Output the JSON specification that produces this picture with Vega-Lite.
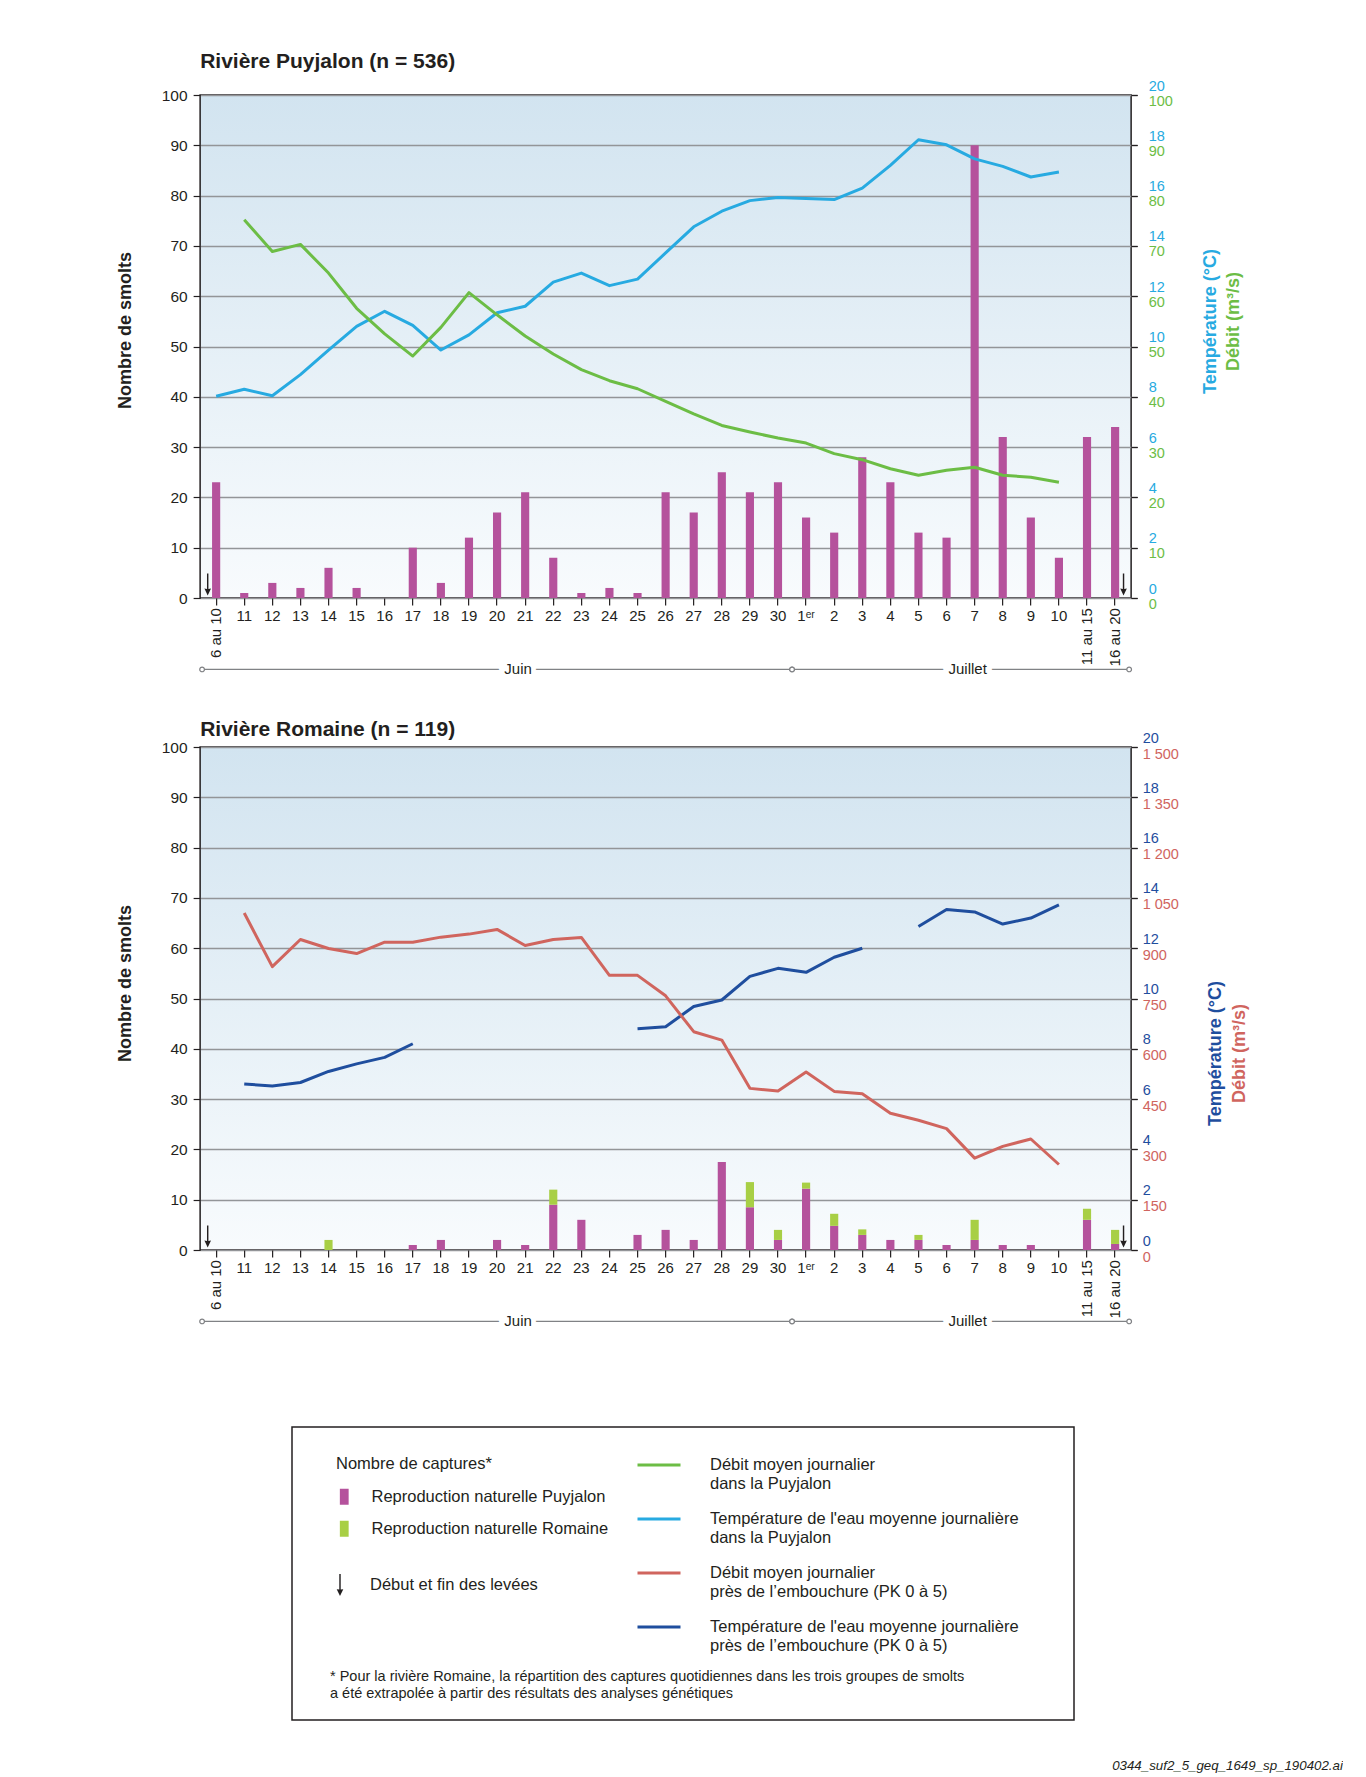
{
  "$schema": "https://vega.github.io/schema/vega-lite/v6.json",
  "background": "white",
  "padding": {"left": 115, "top": 50, "right": 0, "bottom": 0},
  "title": {"text": "0344_suf2_5_geq_1649_sp_190402.ai", "orient": "bottom", "anchor": "end", "frame": "bounds", "font": "Liberation Sans, Arial, sans-serif", "fontSize": 13.3, "fontStyle": "italic", "fontWeight": "normal", "color": "#231f20", "offset": 38, "dx": 94},
  "datasets": {
    "puyjalon_captures": [
      {"jour": "6 au 10", "groupe": "Reproduction naturelle Puyjalon", "nombre": 23},
      {"jour": "11", "groupe": "Reproduction naturelle Puyjalon", "nombre": 1},
      {"jour": "12", "groupe": "Reproduction naturelle Puyjalon", "nombre": 3},
      {"jour": "13", "groupe": "Reproduction naturelle Puyjalon", "nombre": 2},
      {"jour": "14", "groupe": "Reproduction naturelle Puyjalon", "nombre": 6},
      {"jour": "15", "groupe": "Reproduction naturelle Puyjalon", "nombre": 2},
      {"jour": "16", "groupe": "Reproduction naturelle Puyjalon", "nombre": 0},
      {"jour": "17", "groupe": "Reproduction naturelle Puyjalon", "nombre": 10},
      {"jour": "18", "groupe": "Reproduction naturelle Puyjalon", "nombre": 3},
      {"jour": "19", "groupe": "Reproduction naturelle Puyjalon", "nombre": 12},
      {"jour": "20", "groupe": "Reproduction naturelle Puyjalon", "nombre": 17},
      {"jour": "21", "groupe": "Reproduction naturelle Puyjalon", "nombre": 21},
      {"jour": "22", "groupe": "Reproduction naturelle Puyjalon", "nombre": 8},
      {"jour": "23", "groupe": "Reproduction naturelle Puyjalon", "nombre": 1},
      {"jour": "24", "groupe": "Reproduction naturelle Puyjalon", "nombre": 2},
      {"jour": "25", "groupe": "Reproduction naturelle Puyjalon", "nombre": 1},
      {"jour": "26", "groupe": "Reproduction naturelle Puyjalon", "nombre": 21},
      {"jour": "27", "groupe": "Reproduction naturelle Puyjalon", "nombre": 17},
      {"jour": "28", "groupe": "Reproduction naturelle Puyjalon", "nombre": 25},
      {"jour": "29", "groupe": "Reproduction naturelle Puyjalon", "nombre": 21},
      {"jour": "30", "groupe": "Reproduction naturelle Puyjalon", "nombre": 23},
      {"jour": "1er", "groupe": "Reproduction naturelle Puyjalon", "nombre": 16},
      {"jour": "2", "groupe": "Reproduction naturelle Puyjalon", "nombre": 13},
      {"jour": "3", "groupe": "Reproduction naturelle Puyjalon", "nombre": 28},
      {"jour": "4", "groupe": "Reproduction naturelle Puyjalon", "nombre": 23},
      {"jour": "5", "groupe": "Reproduction naturelle Puyjalon", "nombre": 13},
      {"jour": "6", "groupe": "Reproduction naturelle Puyjalon", "nombre": 12},
      {"jour": "7", "groupe": "Reproduction naturelle Puyjalon", "nombre": 90},
      {"jour": "8", "groupe": "Reproduction naturelle Puyjalon", "nombre": 32},
      {"jour": "9", "groupe": "Reproduction naturelle Puyjalon", "nombre": 16},
      {"jour": "10", "groupe": "Reproduction naturelle Puyjalon", "nombre": 8},
      {"jour": "11 au 15", "groupe": "Reproduction naturelle Puyjalon", "nombre": 32},
      {"jour": "16 au 20", "groupe": "Reproduction naturelle Puyjalon", "nombre": 34}
    ],
    "puyjalon_env": [
      {"jour": "6 au 10", "temperature": 8.02, "debit": null},
      {"jour": "11", "temperature": 8.3, "debit": 75.2},
      {"jour": "12", "temperature": 8.04, "debit": 68.9},
      {"jour": "13", "temperature": 8.88, "debit": 70.3},
      {"jour": "14", "temperature": 9.86, "debit": 64.6},
      {"jour": "15", "temperature": 10.8, "debit": 57.6},
      {"jour": "16", "temperature": 11.4, "debit": 52.5},
      {"jour": "17", "temperature": 10.84, "debit": 48.1},
      {"jour": "18", "temperature": 9.86, "debit": 53.8},
      {"jour": "19", "temperature": 10.46, "debit": 60.7},
      {"jour": "20", "temperature": 11.34, "debit": 56.3},
      {"jour": "21", "temperature": 11.6, "debit": 52.1},
      {"jour": "22", "temperature": 12.56, "debit": 48.5},
      {"jour": "23", "temperature": 12.92, "debit": 45.4},
      {"jour": "24", "temperature": 12.42, "debit": 43.2},
      {"jour": "25", "temperature": 12.68, "debit": 41.6},
      {"jour": "26", "temperature": 13.72, "debit": 39.1},
      {"jour": "27", "temperature": 14.76, "debit": 36.6},
      {"jour": "28", "temperature": 15.38, "debit": 34.3},
      {"jour": "29", "temperature": 15.8, "debit": 33.0},
      {"jour": "30", "temperature": 15.92, "debit": 31.8},
      {"jour": "1er", "temperature": 15.88, "debit": 30.8},
      {"jour": "2", "temperature": 15.84, "debit": 28.7},
      {"jour": "3", "temperature": 16.3, "debit": 27.5},
      {"jour": "4", "temperature": 17.2, "debit": 25.7},
      {"jour": "5", "temperature": 18.22, "debit": 24.4},
      {"jour": "6", "temperature": 18.02, "debit": 25.4},
      {"jour": "7", "temperature": 17.46, "debit": 26.0},
      {"jour": "8", "temperature": 17.16, "debit": 24.4},
      {"jour": "9", "temperature": 16.74, "debit": 24.0},
      {"jour": "10", "temperature": 16.94, "debit": 23.0}
    ],
    "romaine_captures": [
      {"jour": "14", "groupe": "Reproduction naturelle Romaine", "nombre": 2},
      {"jour": "17", "groupe": "Reproduction naturelle Puyjalon", "nombre": 1},
      {"jour": "18", "groupe": "Reproduction naturelle Puyjalon", "nombre": 2},
      {"jour": "20", "groupe": "Reproduction naturelle Puyjalon", "nombre": 2},
      {"jour": "21", "groupe": "Reproduction naturelle Puyjalon", "nombre": 1},
      {"jour": "22", "groupe": "Reproduction naturelle Puyjalon", "nombre": 9},
      {"jour": "22", "groupe": "Reproduction naturelle Romaine", "nombre": 3},
      {"jour": "23", "groupe": "Reproduction naturelle Puyjalon", "nombre": 6},
      {"jour": "25", "groupe": "Reproduction naturelle Puyjalon", "nombre": 3},
      {"jour": "26", "groupe": "Reproduction naturelle Puyjalon", "nombre": 4},
      {"jour": "27", "groupe": "Reproduction naturelle Puyjalon", "nombre": 2},
      {"jour": "28", "groupe": "Reproduction naturelle Puyjalon", "nombre": 17.5},
      {"jour": "29", "groupe": "Reproduction naturelle Puyjalon", "nombre": 8.5},
      {"jour": "29", "groupe": "Reproduction naturelle Romaine", "nombre": 5},
      {"jour": "30", "groupe": "Reproduction naturelle Puyjalon", "nombre": 2},
      {"jour": "30", "groupe": "Reproduction naturelle Romaine", "nombre": 2},
      {"jour": "1er", "groupe": "Reproduction naturelle Puyjalon", "nombre": 12.2},
      {"jour": "1er", "groupe": "Reproduction naturelle Romaine", "nombre": 1.2},
      {"jour": "2", "groupe": "Reproduction naturelle Puyjalon", "nombre": 4.8},
      {"jour": "2", "groupe": "Reproduction naturelle Romaine", "nombre": 2.4},
      {"jour": "3", "groupe": "Reproduction naturelle Puyjalon", "nombre": 3},
      {"jour": "3", "groupe": "Reproduction naturelle Romaine", "nombre": 1.1},
      {"jour": "4", "groupe": "Reproduction naturelle Puyjalon", "nombre": 2},
      {"jour": "5", "groupe": "Reproduction naturelle Puyjalon", "nombre": 2},
      {"jour": "5", "groupe": "Reproduction naturelle Romaine", "nombre": 1},
      {"jour": "6", "groupe": "Reproduction naturelle Puyjalon", "nombre": 1},
      {"jour": "7", "groupe": "Reproduction naturelle Puyjalon", "nombre": 2},
      {"jour": "7", "groupe": "Reproduction naturelle Romaine", "nombre": 4},
      {"jour": "8", "groupe": "Reproduction naturelle Puyjalon", "nombre": 1},
      {"jour": "9", "groupe": "Reproduction naturelle Puyjalon", "nombre": 1},
      {"jour": "11 au 15", "groupe": "Reproduction naturelle Puyjalon", "nombre": 6},
      {"jour": "11 au 15", "groupe": "Reproduction naturelle Romaine", "nombre": 2.2},
      {"jour": "16 au 20", "groupe": "Reproduction naturelle Puyjalon", "nombre": 1.2},
      {"jour": "16 au 20", "groupe": "Reproduction naturelle Romaine", "nombre": 2.8}
    ],
    "romaine_env": [
      {"jour": "11", "debit": 1005, "temperature": 6.6, "troncon": "a"},
      {"jour": "12", "debit": 845, "temperature": 6.52, "troncon": "a"},
      {"jour": "13", "debit": 926, "temperature": 6.66, "troncon": "a"},
      {"jour": "14", "debit": 899, "temperature": 7.1, "troncon": "a"},
      {"jour": "15", "debit": 884, "temperature": 7.4, "troncon": "a"},
      {"jour": "16", "debit": 918, "temperature": 7.66, "troncon": "a"},
      {"jour": "17", "debit": 918, "temperature": 8.2, "troncon": "a"},
      {"jour": "18", "debit": 933, "temperature": null, "troncon": null},
      {"jour": "19", "debit": 942, "temperature": null, "troncon": null},
      {"jour": "20", "debit": 956, "temperature": null, "troncon": null},
      {"jour": "21", "debit": 908, "temperature": null, "troncon": null},
      {"jour": "22", "debit": 926, "temperature": null, "troncon": null},
      {"jour": "23", "debit": 932, "temperature": null, "troncon": null},
      {"jour": "24", "debit": 819, "temperature": null, "troncon": null},
      {"jour": "25", "debit": 819, "temperature": 8.8, "troncon": "b"},
      {"jour": "26", "debit": 758, "temperature": 8.88, "troncon": "b"},
      {"jour": "27", "debit": 651, "temperature": 9.68, "troncon": "b"},
      {"jour": "28", "debit": 626, "temperature": 9.94, "troncon": "b"},
      {"jour": "29", "debit": 482, "temperature": 10.88, "troncon": "b"},
      {"jour": "30", "debit": 474, "temperature": 11.2, "troncon": "b"},
      {"jour": "1er", "debit": 531, "temperature": 11.04, "troncon": "b"},
      {"jour": "2", "debit": 473, "temperature": 11.64, "troncon": "b"},
      {"jour": "3", "debit": 466, "temperature": 12.0, "troncon": "b"},
      {"jour": "4", "debit": 408, "temperature": null, "troncon": null},
      {"jour": "5", "debit": 387, "temperature": 12.86, "troncon": "c"},
      {"jour": "6", "debit": 362, "temperature": 13.54, "troncon": "c"},
      {"jour": "7", "debit": 274, "temperature": 13.44, "troncon": "c"},
      {"jour": "8", "debit": 309, "temperature": 12.96, "troncon": "c"},
      {"jour": "9", "debit": 331, "temperature": 13.2, "troncon": "c"},
      {"jour": "10", "debit": 255, "temperature": 13.72, "troncon": "c"}
    ],
    "mois": [
      {"mois": "Juin", "debut": "6 au 10", "fin": "30", "milieu": "21"},
      {"mois": "Juillet", "debut": "1er", "fin": "16 au 20", "milieu": "7"}
    ],
    "periodes": [
      {"jour": "6 au 10"},
      {"jour": "11 au 15"},
      {"jour": "16 au 20"}
    ]
  },
  "spacing": 95,
  "center": true,
  "vconcat": [
    {
      "spacing": 39,
      "vconcat": [
        {
          "title": {"text": "Rivière Puyjalon (n = 536)", "anchor": "start", "frame": "group", "offset": 6},
          "width": 931,
          "height": 503,
          "resolve": {"scale": {"y": "independent"}},
          "layer": [
            {
              "layer": [
                {
                  "data": {"name": "puyjalon_captures"},
                  "mark": {"type": "bar", "width": {"band": 0.29}},
                  "encoding": {
                    "x": {"field": "jour", "type": "ordinal", "title": null,
                      "scale": {"type": "band", "domain": ["6 au 10","11","12","13","14","15","16","17","18","19","20","21","22","23","24","25","26","27","28","29","30","1er","2","3","4","5","6","7","8","9","10","11 au 15","16 au 20"], "paddingInner": 0, "paddingOuter": 0.07},
                      "axis": {"title": null, "orient": "bottom", "labelFont": "Liberation Sans, Arial, sans-serif", "labelFontSize": 15, "labelColor": "#231f20", "labelAngle": 0, "labelOverlap": false, "tickSize": 7, "tickColor": "#231f20", "tickWidth": 1.2, "labelPadding": 3, "labelBaseline": "top", "domain": false, "grid": false,
                        "labelExpr": "indexof(datum.label, ' au ') >= 0 ? '' : (datum.label == '1er' ? '1ᵉʳ' : datum.label)"}},
                    "y": {"field": "nombre", "type": "quantitative", "scale": {"domain": [0, 100], "nice": false},
                      "axis": {"orient": "left", "values": [0,10,20,30,40,50,60,70,80,90,100], "title": "Nombre de smolts", "titleFont": "Liberation Sans, Arial, sans-serif", "titleFontSize": 18, "titleFontWeight": "bold", "titleColor": "#231f20", "titleAngle": 270, "titleX": -75, "titleY": 235, "titleAlign": "center", "titleBaseline": "middle", "labelFont": "Liberation Sans, Arial, sans-serif", "labelFontSize": 15.5, "labelColor": "#231f20", "labelPadding": 6, "tickSize": 7, "tickColor": "#231f20", "tickWidth": 1.2, "grid": true, "gridColor": "#939598", "gridWidth": 1.5, "domain": false}},
                    "fill": {"field": "groupe", "type": "nominal",
                      "scale": {"domain": ["Reproduction naturelle Puyjalon", "Reproduction naturelle Romaine"], "range": ["#b5529c", "#a8cf45"]},
                      "legend": {"orient": "none", "legendX": 136, "legendY": 1361, "title": "Nombre de captures*", "titlePadding": 16, "symbolType": "M-0.55,-1H0.55V1H-0.55Z", "symbolSize": 256, "symbolStrokeWidth": 0, "labelOffset": 19, "rowPadding": 15}},
                    "order": {"field": "groupe", "type": "nominal", "sort": "ascending"}
                  }
                },
                {
                  "data": {"name": "periodes"},
                  "mark": {"type": "text", "font": "Liberation Sans, Arial, sans-serif", "fontSize": 15, "fill": "#231f20", "angle": 270, "align": "right", "baseline": "middle"},
                  "encoding": {
                    "x": {"field": "jour", "type": "ordinal", "title": null},
                    "y": {"datum": -2},
                    "text": {"field": "jour"}
                  }
                },
                {
                  "data": {"name": "mois"},
                  "mark": {"type": "rule", "stroke": "#808285", "strokeWidth": 1.2},
                  "encoding": {
                    "x": {"field": "debut", "type": "ordinal", "title": null, "bandPosition": 0},
                    "x2": {"field": "fin", "bandPosition": 1},
                    "y": {"datum": -14.2}
                  }
                },
                {
                  "data": {"name": "mois"},
                  "mark": {"type": "point", "filled": true, "fill": "white", "stroke": "#808285", "strokeWidth": 1.2, "size": 22, "opacity": 1},
                  "encoding": {
                    "x": {"field": "debut", "type": "ordinal", "title": null, "bandPosition": 0},
                    "y": {"datum": -14.2}
                  }
                },
                {
                  "data": {"name": "mois"},
                  "mark": {"type": "point", "filled": true, "fill": "white", "stroke": "#808285", "strokeWidth": 1.2, "size": 22, "opacity": 1},
                  "encoding": {
                    "x": {"field": "fin", "type": "ordinal", "title": null, "bandPosition": 1},
                    "y": {"datum": -14.2}
                  }
                },
                {
                  "data": {"name": "mois"},
                  "mark": {"type": "text", "font": "Liberation Sans, Arial, sans-serif", "fontSize": 15, "fill": "white", "stroke": "white", "strokeWidth": 10, "baseline": "middle", "align": "center"},
                  "encoding": {
                    "x": {"field": "milieu", "type": "ordinal", "title": null, "bandPosition": 0.25},
                    "y": {"datum": -14.2},
                    "text": {"field": "mois"}
                  }
                },
                {
                  "data": {"name": "mois"},
                  "mark": {"type": "text", "font": "Liberation Sans, Arial, sans-serif", "fontSize": 15, "fill": "#231f20", "baseline": "middle", "align": "center"},
                  "encoding": {
                    "x": {"field": "milieu", "type": "ordinal", "title": null, "bandPosition": 0.25},
                    "y": {"datum": -14.2},
                    "text": {"field": "mois"}
                  }
                },
                {
                  "data": {"values": [{"jour": "6 au 10"}]},
                  "mark": {"type": "point", "filled": true, "fill": "#231f20", "strokeWidth": 0, "size": 484, "opacity": 1},
                  "encoding": {
                    "x": {"field": "jour", "type": "ordinal", "title": null, "bandPosition": 0.2},
                    "y": {"datum": 2.7},
                    "shape": {"datum": "Début et fin des levées", "type": "nominal", "scale": {"domain": ["Début et fin des levées"], "range": ["M-0.065,-1L0.065,-1L0.065,0.42L0.3,0.38L0,1L-0.3,0.38L-0.065,0.42Z"]},
                      "legend": {"orient": "none", "legendX": 129, "legendY": 1479, "title": null, "symbolSize": 484, "symbolFillColor": "#231f20", "symbolStrokeWidth": 0, "labelOffset": 19}}
                  }
                },
                {
                  "data": {"values": [{"jour": "16 au 20"}]},
                  "mark": {"type": "point", "filled": true, "fill": "#231f20", "strokeWidth": 0, "size": 484, "opacity": 1},
                  "encoding": {
                    "x": {"field": "jour", "type": "ordinal", "title": null, "bandPosition": 0.8},
                    "y": {"datum": 2.7},
                    "shape": {"datum": "Début et fin des levées", "type": "nominal"}
                  }
                }
              ]
            },
            {
              "data": {"name": "puyjalon_env"},
              "mark": {"type": "line", "strokeWidth": 3, "strokeJoin": "round"},
              "encoding": {
                "x": {"field": "jour", "type": "ordinal", "title": null},
                "y": {"field": "temperature", "type": "quantitative", "scale": {"domain": [0, 20], "nice": false},
                  "axis": {"orient": "right", "values": [0,2,4,6,8,10,12,14,16,18,20], "title": "Température (°C)", "titleFont": "Liberation Sans, Arial, sans-serif", "titleFontSize": 18, "titleFontWeight": "bold", "titleColor": "#27aae1", "titleAngle": 270, "titleX": 79, "titleY": 226, "titleAlign": "center", "titleBaseline": "middle", "labelFont": "Liberation Sans, Arial, sans-serif", "labelFontSize": 14.5, "labelColor": "#27aae1", "labelOffset": -9, "labelPadding": 11, "labelAlign": "left", "labelBaseline": "middle", "tickSize": 6, "tickColor": "#231f20", "tickWidth": 1.2, "grid": false, "domain": false}},
                "stroke": {"datum": "Température de l'eau moyenne journalière dans la Puyjalon", "type": "nominal",
                  "scale": {"domain": ["Débit moyen journalier dans la Puyjalon", "Température de l'eau moyenne journalière dans la Puyjalon", "Débit moyen journalier près de l’embouchure (PK 0 à 5)", "Température de l'eau moyenne journalière près de l’embouchure (PK 0 à 5)"], "range": ["#6cbd45", "#27aae1", "#d0655e", "#1f4e9e"]},
                  "legend": {"orient": "none", "legendX": 436, "legendY": 1347, "title": null, "symbolType": "stroke", "symbolSize": 1849, "symbolStrokeWidth": 3, "labelOffset": 28, "rowPadding": 4, "labelLimit": 500,
                    "labelExpr": "indexof(datum.label, ' dans ') >= 0 ? [substring(datum.label, 0, indexof(datum.label, ' dans ')), substring(datum.label, indexof(datum.label, ' dans ') + 1)] : [substring(datum.label, 0, indexof(datum.label, ' près ')), substring(datum.label, indexof(datum.label, ' près ') + 1)]"}}
              }
            },
            {
              "data": {"name": "puyjalon_env"},
              "mark": {"type": "line", "strokeWidth": 3, "strokeJoin": "round"},
              "encoding": {
                "x": {"field": "jour", "type": "ordinal", "title": null},
                "y": {"field": "debit", "type": "quantitative", "scale": {"domain": [0, 100], "nice": false},
                  "axis": {"orient": "right", "values": [0,10,20,30,40,50,60,70,80,90,100], "title": "Débit (m³/s)", "titleFont": "Liberation Sans, Arial, sans-serif", "titleFontSize": 18, "titleFontWeight": "bold", "titleColor": "#6cbd45", "titleAngle": 270, "titleX": 102, "titleY": 226, "titleAlign": "center", "titleBaseline": "middle", "labelFont": "Liberation Sans, Arial, sans-serif", "labelFontSize": 14.5, "labelColor": "#6cbd45", "labelOffset": 6, "labelPadding": 11, "labelAlign": "left", "labelBaseline": "middle", "tickSize": 6, "tickColor": "#231f20", "tickWidth": 1.2, "grid": false, "domain": false}},
                "stroke": {"datum": "Débit moyen journalier dans la Puyjalon", "type": "nominal"}
              }
            }
          ]
        },
        {
          "title": {"text": "Rivière Romaine (n = 119)", "anchor": "start", "frame": "group", "offset": -10},
          "width": 931,
          "height": 503,
          "resolve": {"scale": {"y": "independent"}},
          "layer": [
            {
              "layer": [
                {
                  "data": {"name": "romaine_captures"},
                  "mark": {"type": "bar", "width": {"band": 0.29}},
                  "encoding": {
                    "x": {"field": "jour", "type": "ordinal", "title": null,
                      "scale": {"type": "band", "domain": ["6 au 10","11","12","13","14","15","16","17","18","19","20","21","22","23","24","25","26","27","28","29","30","1er","2","3","4","5","6","7","8","9","10","11 au 15","16 au 20"], "paddingInner": 0, "paddingOuter": 0.07},
                      "axis": {"title": null, "orient": "bottom", "labelFont": "Liberation Sans, Arial, sans-serif", "labelFontSize": 15, "labelColor": "#231f20", "labelAngle": 0, "labelOverlap": false, "tickSize": 7, "tickColor": "#231f20", "tickWidth": 1.2, "labelPadding": 3, "labelBaseline": "top", "domain": false, "grid": false,
                        "labelExpr": "indexof(datum.label, ' au ') >= 0 ? '' : (datum.label == '1er' ? '1ᵉʳ' : datum.label)"}},
                    "y": {"field": "nombre", "type": "quantitative", "scale": {"domain": [0, 100], "nice": false},
                      "axis": {"orient": "left", "values": [0,10,20,30,40,50,60,70,80,90,100], "title": "Nombre de smolts", "titleFont": "Liberation Sans, Arial, sans-serif", "titleFontSize": 18, "titleFontWeight": "bold", "titleColor": "#231f20", "titleAngle": 270, "titleX": -75, "titleY": 236, "titleAlign": "center", "titleBaseline": "middle", "labelFont": "Liberation Sans, Arial, sans-serif", "labelFontSize": 15.5, "labelColor": "#231f20", "labelPadding": 6, "tickSize": 7, "tickColor": "#231f20", "tickWidth": 1.2, "grid": true, "gridColor": "#939598", "gridWidth": 1.5, "domain": false}},
                    "fill": {"field": "groupe", "type": "nominal",
                      "scale": {"domain": ["Reproduction naturelle Puyjalon", "Reproduction naturelle Romaine"], "range": ["#b5529c", "#a8cf45"]}},
                    "order": {"field": "groupe", "type": "nominal", "sort": "ascending"}
                  }
                },
                {
                  "data": {"name": "periodes"},
                  "mark": {"type": "text", "font": "Liberation Sans, Arial, sans-serif", "fontSize": 15, "fill": "#231f20", "angle": 270, "align": "right", "baseline": "middle"},
                  "encoding": {
                    "x": {"field": "jour", "type": "ordinal", "title": null},
                    "y": {"datum": -2},
                    "text": {"field": "jour"}
                  }
                },
                {
                  "data": {"name": "mois"},
                  "mark": {"type": "rule", "stroke": "#808285", "strokeWidth": 1.2},
                  "encoding": {
                    "x": {"field": "debut", "type": "ordinal", "title": null, "bandPosition": 0},
                    "x2": {"field": "fin", "bandPosition": 1},
                    "y": {"datum": -14.2}
                  }
                },
                {
                  "data": {"name": "mois"},
                  "mark": {"type": "point", "filled": true, "fill": "white", "stroke": "#808285", "strokeWidth": 1.2, "size": 22, "opacity": 1},
                  "encoding": {
                    "x": {"field": "debut", "type": "ordinal", "title": null, "bandPosition": 0},
                    "y": {"datum": -14.2}
                  }
                },
                {
                  "data": {"name": "mois"},
                  "mark": {"type": "point", "filled": true, "fill": "white", "stroke": "#808285", "strokeWidth": 1.2, "size": 22, "opacity": 1},
                  "encoding": {
                    "x": {"field": "fin", "type": "ordinal", "title": null, "bandPosition": 1},
                    "y": {"datum": -14.2}
                  }
                },
                {
                  "data": {"name": "mois"},
                  "mark": {"type": "text", "font": "Liberation Sans, Arial, sans-serif", "fontSize": 15, "fill": "white", "stroke": "white", "strokeWidth": 10, "baseline": "middle", "align": "center"},
                  "encoding": {
                    "x": {"field": "milieu", "type": "ordinal", "title": null, "bandPosition": 0.25},
                    "y": {"datum": -14.2},
                    "text": {"field": "mois"}
                  }
                },
                {
                  "data": {"name": "mois"},
                  "mark": {"type": "text", "font": "Liberation Sans, Arial, sans-serif", "fontSize": 15, "fill": "#231f20", "baseline": "middle", "align": "center"},
                  "encoding": {
                    "x": {"field": "milieu", "type": "ordinal", "title": null, "bandPosition": 0.25},
                    "y": {"datum": -14.2},
                    "text": {"field": "mois"}
                  }
                },
                {
                  "data": {"values": [{"jour": "6 au 10"}]},
                  "mark": {"type": "point", "filled": true, "fill": "#231f20", "strokeWidth": 0, "size": 484, "opacity": 1},
                  "encoding": {
                    "x": {"field": "jour", "type": "ordinal", "title": null, "bandPosition": 0.2},
                    "y": {"datum": 2.7},
                    "shape": {"datum": "Début et fin des levées", "type": "nominal", "scale": {"domain": ["Début et fin des levées"], "range": ["M-0.065,-1L0.065,-1L0.065,0.42L0.3,0.38L0,1L-0.3,0.38L-0.065,0.42Z"]}}
                  }
                },
                {
                  "data": {"values": [{"jour": "16 au 20"}]},
                  "mark": {"type": "point", "filled": true, "fill": "#231f20", "strokeWidth": 0, "size": 484, "opacity": 1},
                  "encoding": {
                    "x": {"field": "jour", "type": "ordinal", "title": null, "bandPosition": 0.8},
                    "y": {"datum": 2.7},
                    "shape": {"datum": "Début et fin des levées", "type": "nominal"}
                  }
                }
              ]
            },
            {
              "data": {"name": "romaine_env"},
              "mark": {"type": "line", "strokeWidth": 3, "strokeJoin": "round"},
              "encoding": {
                "x": {"field": "jour", "type": "ordinal", "title": null},
                "y": {"field": "temperature", "type": "quantitative", "scale": {"domain": [0, 20], "nice": false},
                  "axis": {"orient": "right", "values": [0,2,4,6,8,10,12,14,16,18,20], "title": "Température (°C)", "titleFont": "Liberation Sans, Arial, sans-serif", "titleFontSize": 18, "titleFontWeight": "bold", "titleColor": "#1f4e9e", "titleAngle": 270, "titleX": 84, "titleY": 306, "titleAlign": "center", "titleBaseline": "middle", "labelFont": "Liberation Sans, Arial, sans-serif", "labelFontSize": 14.5, "labelColor": "#1f4e9e", "labelOffset": -9, "labelPadding": 5, "labelAlign": "left", "labelBaseline": "middle", "tickSize": 6, "tickColor": "#231f20", "tickWidth": 1.2, "grid": false, "domain": false}},
                "detail": {"field": "troncon", "type": "nominal"},
                "stroke": {"datum": "Température de l'eau moyenne journalière près de l’embouchure (PK 0 à 5)", "type": "nominal"}
              }
            },
            {
              "data": {"name": "romaine_env"},
              "mark": {"type": "line", "strokeWidth": 3, "strokeJoin": "round"},
              "encoding": {
                "x": {"field": "jour", "type": "ordinal", "title": null},
                "y": {"field": "debit", "type": "quantitative", "scale": {"domain": [0, 1500], "nice": false},
                  "axis": {"orient": "right", "values": [0,150,300,450,600,750,900,1050,1200,1350,1500], "labelExpr": "replace(format(datum.value, ',d'), ',', ' ')", "title": "Débit (m³/s)", "titleFont": "Liberation Sans, Arial, sans-serif", "titleFontSize": 18, "titleFontWeight": "bold", "titleColor": "#d0655e", "titleAngle": 270, "titleX": 108, "titleY": 306, "titleAlign": "center", "titleBaseline": "middle", "labelFont": "Liberation Sans, Arial, sans-serif", "labelFontSize": 14.5, "labelColor": "#d0655e", "labelOffset": 7, "labelPadding": 5, "labelAlign": "left", "labelBaseline": "middle", "tickSize": 6, "tickColor": "#231f20", "tickWidth": 1.2, "grid": false, "domain": false}},
                "stroke": {"datum": "Débit moyen journalier près de l’embouchure (PK 0 à 5)", "type": "nominal"}
              }
            }
          ]
        }
      ]
    },
    {
      "spacing": 0,
      "hconcat": [
        {
          "width": 782,
          "height": 293,
          "view": {"fill": "white", "stroke": "#231f20", "strokeWidth": 1.5},
          "title": {"text": ["* Pour la rivière Romaine, la répartition des captures quotidiennes dans les trois groupes de smolts", "  a été extrapolée à partir des résultats des analyses génétiques"], "orient": "bottom", "anchor": "start", "frame": "group", "offset": -50, "dx": 38, "font": "Liberation Sans, Arial, sans-serif", "fontSize": 14.5, "fontWeight": "normal", "color": "#231f20", "lineHeight": 17},
          "data": {"values": []},
          "mark": "point"
        },
        {
          "width": 82,
          "height": 293,
          "view": {"fill": null, "stroke": null},
          "data": {"values": []},
          "mark": "point"
        }
      ]
    }
  ],
  "config": {
    "view": {"stroke": "#231f20", "strokeWidth": 1.5, "fill": {"gradient": "linear", "x1": 0, "y1": 0, "x2": 0, "y2": 1, "stops": [{"offset": 0, "color": "#d2e4f0"}, {"offset": 1, "color": "#f8fbfd"}]}},
    "title": {"font": "Liberation Sans, Arial, sans-serif", "fontSize": 21, "fontWeight": "bold", "color": "#231f20", "anchor": "start"},
    "legend": {"labelFont": "Liberation Sans, Arial, sans-serif", "labelFontSize": 16.5, "labelColor": "#231f20", "titleFont": "Liberation Sans, Arial, sans-serif", "titleFontSize": 16.5, "titleFontWeight": "normal", "titleColor": "#231f20", "padding": 0, "labelLimit": 500}
  }
}
